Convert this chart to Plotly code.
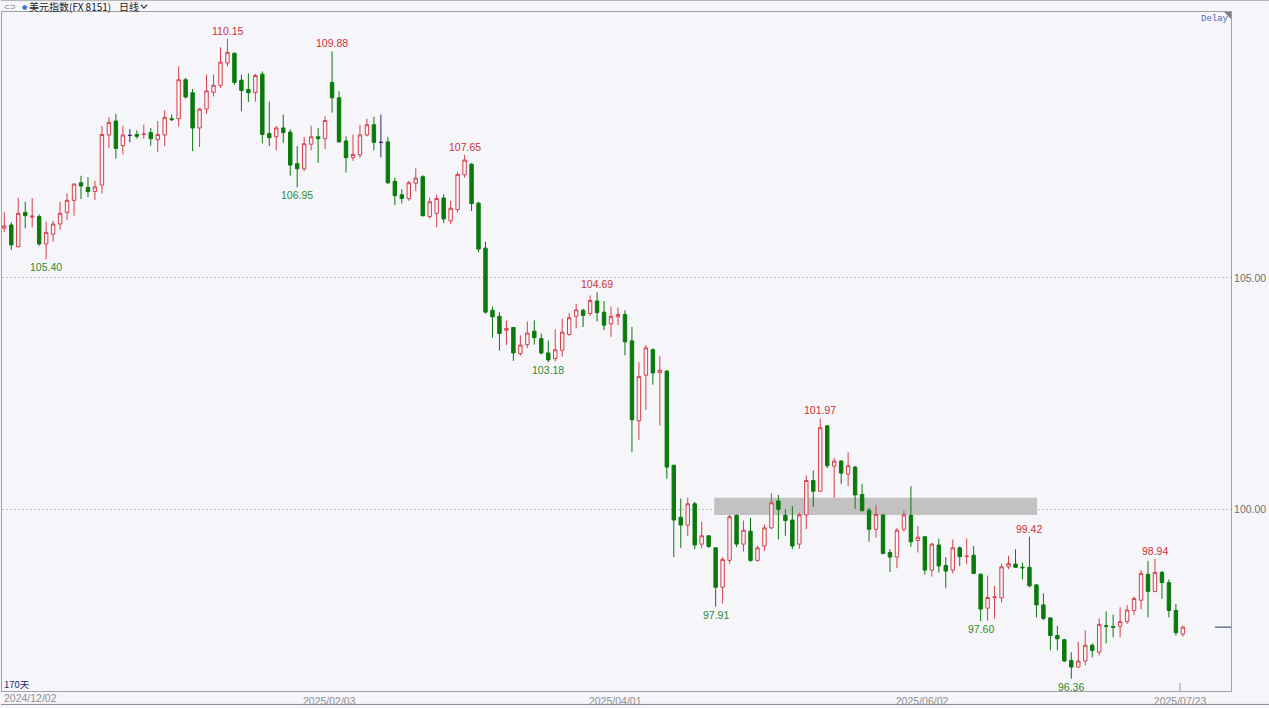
import plotly.graph_objects as go

# ---------------- data ----------------
opens = [106.07,106.14,105.67,106.41,106.31,106.32,105.73,105.94,106.16,106.41,
         106.67,107.05,106.95,106.86,107.00,108.08,108.38,107.85,108.07,108.09,
         108.09,108.13,107.98,108.08,108.43,108.43,109.27,108.99,108.23,108.64,
         109.00,109.15,109.63,109.84,109.26,109.06,108.99,109.39,108.11,108.04,
         108.23,108.14,107.46,107.35,107.88,108.04,108.00,109.21,108.88,107.95,
         107.59,107.65,108.08,108.30,107.92,107.93,107.08,106.79,106.71,107.04,
         107.18,106.32,106.39,106.72,106.23,106.47,107.22,107.45,106.61,105.64,
         104.30,104.17,103.87,103.93,103.37,103.56,103.85,103.69,103.38,103.26,
         103.44,103.78,104.17,104.30,104.23,104.50,104.26,104.01,104.16,104.21,
         103.64,101.92,102.90,103.45,102.96,102.99,100.96,99.84,99.67,100.13,
         99.26,99.44,99.18,98.33,98.91,99.88,99.26,99.54,98.91,99.22,
         99.61,100.19,99.88,99.78,99.26,99.89,100.63,100.40,101.81,100.94,
         101.05,100.77,100.92,100.33,99.99,99.58,99.89,99.08,98.98,99.58,
         99.88,99.34,99.42,98.70,99.24,98.80,98.70,99.18,98.99,99.02,
         98.61,97.88,98.11,98.10,98.77,98.83,98.76,98.76,98.38,97.95,
         97.67,97.29,97.20,96.75,96.61,96.74,97.08,96.93,97.50,97.48,
         97.49,97.59,97.83,98.05,98.61,98.24,98.65,98.43,97.83,97.32]
highs = [106.42,106.20,106.73,106.64,106.72,106.37,106.21,106.23,106.64,106.82,
         107.04,107.20,107.17,107.09,108.27,108.46,108.53,108.28,108.21,108.18,
         108.30,108.23,108.38,108.61,108.52,109.56,109.31,109.07,108.66,109.38,
         109.38,109.97,110.15,109.86,109.38,109.41,109.40,109.45,108.80,108.27,
         108.52,108.20,107.84,108.04,108.28,108.23,108.48,109.88,109.02,108.05,
         108.09,108.30,108.43,108.47,108.52,108.04,107.16,106.91,107.09,107.36,
         107.21,106.73,106.79,106.80,106.66,107.28,107.65,107.47,106.64,105.78,
         104.38,104.26,104.08,103.94,103.76,104.06,104.08,103.80,103.65,103.89,
         104.12,104.24,104.44,104.33,104.62,104.69,104.50,104.38,104.36,104.30,
         103.94,103.18,103.55,103.48,103.31,103.01,100.97,100.24,100.26,100.17,
         99.74,99.45,99.18,98.98,99.89,99.90,99.77,99.83,99.23,99.68,
         100.36,100.32,100.01,100.08,99.94,100.74,100.85,101.97,101.82,101.12,
         101.07,101.24,100.94,100.56,100.04,100.11,99.90,99.15,99.61,99.98,
         100.51,99.65,99.44,99.29,99.38,98.98,99.36,99.21,99.38,99.22,
         98.63,98.58,98.36,98.84,99.01,99.15,98.86,99.42,98.40,98.20,
         97.68,97.50,97.22,96.93,97.15,97.40,97.12,97.66,97.81,97.74,
         97.90,97.95,98.13,98.70,98.90,98.94,98.68,98.50,97.97,97.50]
lows = [105.99,105.60,105.66,106.07,106.09,105.69,105.40,105.78,106.04,106.24,
        106.34,106.70,106.74,106.68,106.82,107.80,107.57,107.66,107.92,108.00,
        108.00,107.85,107.71,107.84,108.38,108.26,108.86,107.73,107.82,108.53,
        108.91,109.09,109.56,109.16,108.59,108.79,108.80,107.90,107.84,107.75,
        107.91,107.20,106.95,107.30,107.75,107.48,107.77,108.56,107.92,107.27,
        107.52,107.59,108.05,107.75,107.60,107.02,106.57,106.60,106.66,106.87,
        106.32,106.28,106.09,106.18,106.16,106.41,107.16,106.44,105.55,104.23,
        103.71,103.43,103.55,103.21,103.32,103.49,103.56,103.35,103.18,103.20,
        103.30,103.75,103.91,103.94,104.18,104.06,103.87,103.73,103.98,103.33,
        101.24,101.51,102.15,102.70,101.82,100.67,98.98,99.18,99.44,99.15,
        99.17,99.18,97.91,97.98,98.84,99.20,99.10,98.88,98.88,99.11,
        99.58,99.36,99.44,99.15,99.16,99.58,100.06,100.39,100.90,100.26,
        100.56,100.51,100.02,99.97,99.31,99.40,99.04,98.66,98.74,99.53,
        99.20,99.08,98.60,98.56,98.65,98.31,98.63,98.79,98.83,98.61,
        97.60,97.61,97.65,98.00,98.72,98.76,98.50,98.33,97.68,97.62,
        96.97,96.97,96.72,96.36,96.60,96.65,96.82,96.86,97.12,97.25,
        97.25,97.54,97.73,97.86,97.68,98.22,98.08,97.68,97.29,97.27]
closes = [106.12,105.71,106.39,106.34,106.33,105.73,105.98,106.16,106.39,106.67,
          107.02,106.98,106.86,106.96,108.09,108.35,107.79,108.08,108.07,108.05,
          108.10,108.00,108.09,108.46,108.41,109.27,108.90,108.23,108.64,109.03,
          109.15,109.65,109.86,109.21,109.04,108.99,109.36,108.09,108.02,108.23,
          108.13,107.43,107.35,107.89,108.04,108.00,108.39,108.88,107.93,107.59,
          107.66,108.08,108.30,107.92,107.92,107.05,106.77,106.71,107.05,107.15,
          106.34,106.64,106.71,106.27,106.50,107.23,107.54,106.60,105.62,104.26,
          104.16,103.80,103.91,103.38,103.55,103.81,103.71,103.38,103.23,103.45,
          103.83,104.14,104.31,104.19,104.51,104.25,103.98,104.17,104.21,103.62,
          101.94,102.87,103.49,102.95,103.01,100.92,99.78,99.67,100.13,99.24,
          99.44,99.21,98.33,98.93,99.85,99.26,99.56,98.91,99.18,99.61,
          100.15,100.01,99.77,99.22,99.89,100.63,100.40,101.77,100.95,101.05,
          100.79,100.95,100.32,99.98,99.58,99.90,99.06,98.98,99.56,99.89,
          99.31,99.41,98.70,99.26,98.79,98.68,99.18,98.99,99.00,98.63,
          97.86,98.11,98.12,98.77,98.84,98.76,98.75,98.36,97.95,97.66,
          97.29,97.22,96.74,96.61,96.74,97.08,96.97,97.53,97.49,97.47,
          97.59,97.84,98.09,98.63,98.24,98.65,98.43,97.83,97.35,97.47]

bar_index = list(range(len(opens)))
doji_navy = [18, 54]

# labelled extremes (bar index)
high_label_bars = [32, 47, 66, 85, 117, 147, 165]
low_label_bars = [6, 42, 78, 102, 140, 153]

# x-axis date labels and the bars they belong to
date_labels = ["2024/12/02", "2025/02/03", "2025/04/01", "2025/06/02", "2025/07/23"]
date_bars = [0, 47, 88, 132, 169]

# support zone (bar range, price range)
zone_bars = [101.8, 148.1]
zone_prices = [99.89, 100.26]

y_ticks = [100, 105]

# ---------------- style ----------------
W, H = 1269, 708
ML, MR, MT, MB = 1, 38, 12, 14
BG = "#F5F5FA"
RED = "#D6404A"
GREEN = "#0A7A0A"
NAVY = "#2B2B6B"
FONT = "Liberation Sans"

def px(xp):
    return (xp - ML) / (W - ML - MR)

def py(yp):
    return (H - MB - yp) / (H - MT - MB)

main = [i for i in bar_index if i not in doji_navy]

fig = go.Figure()
fig.add_trace(go.Candlestick(
    x=main,
    open=[opens[i] for i in main], high=[highs[i] for i in main],
    low=[lows[i] for i in main], close=[closes[i] for i in main],
    increasing=dict(line=dict(color=RED, width=1), fillcolor=BG),
    decreasing=dict(line=dict(color=GREEN, width=1), fillcolor=GREEN),
    whiskerwidth=0, hoverinfo="skip", showlegend=False,
))
fig.add_trace(go.Candlestick(
    x=doji_navy,
    open=[opens[i] for i in doji_navy], high=[highs[i] for i in doji_navy],
    low=[lows[i] for i in doji_navy], close=[closes[i] for i in doji_navy],
    increasing=dict(line=dict(color=NAVY, width=1), fillcolor=NAVY),
    decreasing=dict(line=dict(color=NAVY, width=1), fillcolor=NAVY),
    whiskerwidth=0, hoverinfo="skip", showlegend=False,
))

ann = []
for b in high_label_bars:
    ann.append(dict(x=b, y=highs[b], xref="x", yref="y", text=f"{highs[b]:.2f}",
                    showarrow=False, yanchor="bottom", yshift=0,
                    font=dict(family=FONT, size=10.5, color="#C8323C")))
for b in low_label_bars:
    ann.append(dict(x=b, y=lows[b], xref="x", yref="y", text=f"{lows[b]:.2f}",
                    showarrow=False, yanchor="top", yshift=0,
                    font=dict(family=FONT, size=10.5, color="#2E8B2E")))

# first date label, left aligned at the chart edge
ann.append(dict(x=0, y=py(701), xref="paper", yref="paper", text=date_labels[0],
                showarrow=False, xanchor="left", yanchor="middle",
                font=dict(family=FONT, size=10.5, color="#909090")))
# header
hdr = dict(showarrow=False, xanchor="left", yanchor="middle", xref="paper", yref="paper",
           borderpad=0)
ann.append(dict(hdr, x=px(2), y=py(6.5), text="⊂⊃",
                font=dict(family="DejaVu Sans", size=7, color="#666666")))
ann.append(dict(hdr, x=px(20), y=py(6.5), text="●",
                font=dict(family="DejaVu Sans", size=6, color="#3C6ED2")))
ann.append(dict(hdr, x=px(27), y=py(6.5), text="美元指数(FX 8151)",
                font=dict(family="Noto Sans CJK SC", size=10, color="#222222")))
ann.append(dict(hdr, x=px(117), y=py(6.5), text="日线",
                font=dict(family="Noto Sans CJK SC", size=10, color="#222222")))
ann.append(dict(x=px(1199), y=py(19), xref="paper", yref="paper", text="Delay",
                showarrow=False, xanchor="left", yanchor="middle",
                font=dict(family="Liberation Mono", size=9, color="#4A6AA8")))
ann.append(dict(x=px(1), y=py(687), xref="paper", yref="paper", text="170天",
                showarrow=False, xanchor="left", yanchor="middle",
                font=dict(family="Noto Sans CJK SC", size=9.5, color="#1E1E6E")))

shapes = [
    dict(type="rect", xref="x", yref="y", x0=zone_bars[0], x1=zone_bars[1],
         y0=zone_prices[0], y1=zone_prices[1], fillcolor="#C2C2C2",
         line=dict(width=0), layer="below"),
    # last price marker
    dict(type="line", xref="paper", yref="y", x0=px(1215), x1=1,
         y0=closes[-1], y1=closes[-1], line=dict(color="#6A7590", width=1.5)),
    # tick mark on last date
    dict(type="line", xref="x", yref="paper", x0=date_bars[-1] - 0.4, x1=date_bars[-1] - 0.4,
         y0=0, y1=py(686), line=dict(color="#9A9A9A", width=1)),
    # corner triangle
    dict(type="path", xref="paper", yref="paper",
         path=f"M {px(1224)},{py(12)} L {px(1231)},{py(12)} L {px(1231)},{py(19)} Z",
         fillcolor="#808080", line=dict(width=0)),
    # chevron after 日线
    dict(type="path", xref="paper", yref="paper",
         path=f"M {px(140)},{py(4.5)} L {px(143)},{py(8)} L {px(146)},{py(4.5)}",
         line=dict(color="#333333", width=1.2)),
    # header separator & bottom border
    dict(type="line", xref="paper", yref="paper", x0=px(0), x1=px(W),
         y0=py(0.5), y1=py(0.5), line=dict(color="#B4B4B4", width=1)),
    dict(type="line", xref="paper", yref="paper", x0=px(0), x1=px(W),
         y0=py(707.5), y1=py(707.5), line=dict(color="#8C8C8C", width=1)),
]

fig.update_layout(
    width=W, height=H,
    margin=dict(l=ML, r=MR, t=MT, b=MB, pad=0),
    paper_bgcolor=BG, plot_bgcolor=BG,
    annotations=ann, shapes=shapes,
    showlegend=False, hovermode=False,
    xaxis=dict(range=[-0.33, 175.9], rangeslider=dict(visible=False),
               tickmode="array", tickvals=[b - 0.4 for b in date_bars[1:]],
               ticktext=date_labels[1:], ticks="", showgrid=False, zeroline=False,
               showline=True, linecolor="#A0A0A0", linewidth=1, mirror=True,
               tickfont=dict(family=FONT, size=10.5, color="#909090"), fixedrange=True),
    yaxis=dict(range=[96.094, 110.730], side="right", tickmode="array",
               tickvals=y_ticks, ticktext=[f"{v:.2f}" for v in y_ticks], ticks="",
               showgrid=True, gridcolor="#BDBDBD", griddash="2px,2px", gridwidth=1,
               zeroline=False, showline=True, linecolor="#A0A0A0", linewidth=1, mirror=True,
               tickfont=dict(family=FONT, size=10.5, color="#707070"), fixedrange=True),
)

fig.write_html("out.html", config=dict(displayModeBar=False),
               post_script="document.body.style.margin='0';document.body.style.overflow='hidden';")
